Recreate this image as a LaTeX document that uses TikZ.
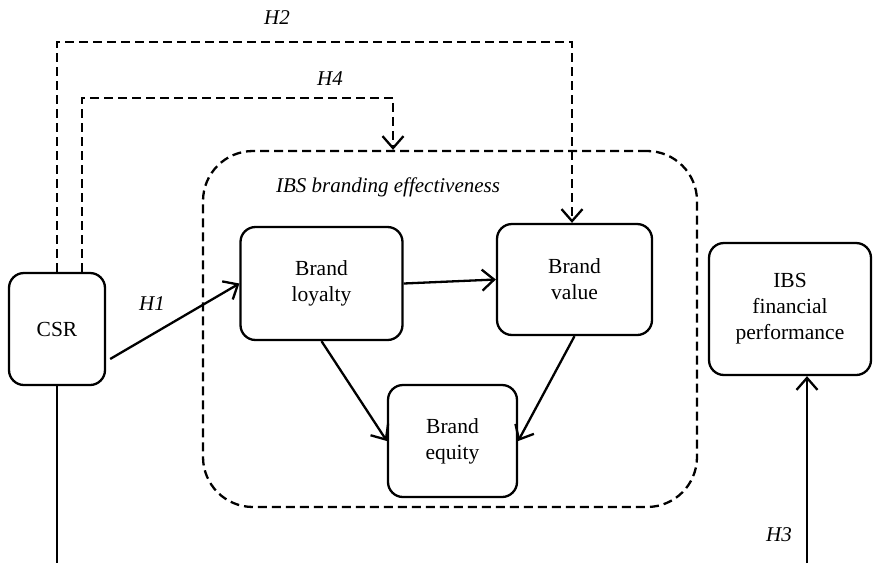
\documentclass[tikz,border=0pt]{standalone}
\usepackage{fontspec}
\setmainfont{Liberation Serif}
\usetikzlibrary{arrows.meta,calc}
\begin{document}
\begin{tikzpicture}[x=1pt,y=-1pt,
  box/.style={draw,line width=2.3pt,rounded corners=15pt,align=center,inner sep=0pt,
    font=\fontsize{21.5}{26}\selectfont},
  grp/.style={draw,line width=2.3pt,rounded corners=50pt,dash pattern=on 9pt off 5pt,inner sep=0pt},
  conn/.style={line width=2.3pt,-{Straight Barb[length=12pt,width=21pt]}},
  dconn/.style={conn,dash pattern=on 9pt off 5pt},
  solidline/.style={line width=2.3pt},
  lbl/.style={font=\fontsize{21}{26}\selectfont\itshape,inner sep=0pt}]
\useasboundingbox (0,0) rectangle (873,563);
\node[grp,minimum width=494pt,minimum height=356pt] (grp) at (450,329) {};
\node[box,minimum width=96pt,minimum height=112pt] (csr) at (57,329) {CSR};
\node[box,minimum width=162pt,minimum height=113pt] (loyalty) at (321.5,283.5) {Brand\\loyalty};
\node[box,minimum width=155pt,minimum height=111pt] (value) at (574.5,279.5) {Brand\\value};
\node[box,minimum width=129pt,minimum height=112pt] (equity) at (452.5,441) {Brand\\equity};
\node[box,minimum width=162pt,minimum height=132pt] (ibs) at (790,309) {IBS\\financial\\performance};
\node[lbl] (grplbl) at (388,187) {IBS branding effectiveness};
\node[lbl] (h2) at (277,18) {H2};
\node[lbl] (h4) at (330,79) {H4};
\node[lbl] (h1) at (152,304) {H1};
\node[lbl] (h3) at (779,535) {H3};
\coordinate (csrbottom) at (57,563);
\coordinate (h3start) at (807,563);
% H2
\draw[dconn] (csr.north) -- (csr.north |- 0,42) -| ($(value.north)+(-2.5,0)$);
% H4
\draw[dconn] ($(csr.north)+(25,0)$) |- ($(grp.north)+(-57,-52)$) -- ($(grp.north)+(-57,0)$);
% H1
\draw[conn] ($(csr.east)+(4,30)$) -- (loyalty.west);
\draw[conn] (loyalty.east) -- (value.west);
\draw[conn] (loyalty.south) -- (equity.west);
\draw[conn] (value.south) -- (equity.east);
% CSR down
\draw[solidline] (csr.south) -- (csrbottom);
% H3
\draw[conn] (h3start) -- (h3start |- ibs.south);
\end{tikzpicture}
\end{document}
